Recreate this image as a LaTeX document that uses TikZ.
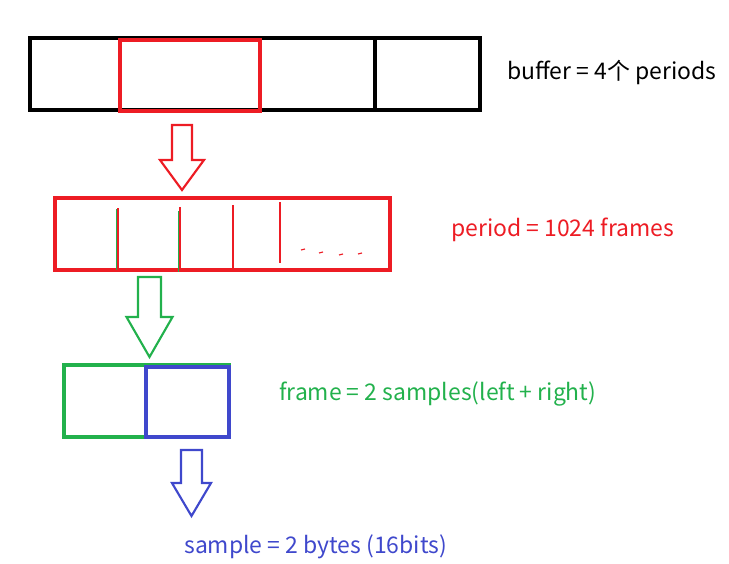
\documentclass[tikz,border=0pt]{standalone}
\usepackage{fontspec}
\setmainfont{Noto Sans CJK SC}
\usetikzlibrary{fit}
\definecolor{bufblack}{RGB}{0,0,0}
\definecolor{perred}{RGB}{237,28,36}
\definecolor{framegreen}{RGB}{34,177,76}
\definecolor{sampblue}{RGB}{63,72,204}

% hollow block arrow: colour, x, top, head base, tip, shaft half, head half
\newcommand{\hollowarrow}[7]{%
  \draw[line width=1.6pt, draw=#1, line join=miter]
    (#2-#6,#3) -- (#2+#6,#3) -- (#2+#6,#4) -- (#2+#7,#4) -- (#2,#5)
    -- (#2-#7,#4) -- (#2-#6,#4) -- cycle;
}

\begin{document}
\begin{tikzpicture}[
    x=0.75pt, y=-0.75pt,
    box/.style={rectangle, inner sep=0pt, line width=2.3pt},
    label/.style={anchor=west, inner sep=0pt, font=\fontsize{17.2pt}{20pt}\selectfont}
]
\useasboundingbox (0,0) rectangle (729,564);

% buffer
\node[box, draw=bufblack, fit={(30,38)(480,110)}] (buffer) {};
\draw[line width=2.3pt, bufblack] (260,38) -- (260,110);
\draw[line width=2.3pt, bufblack] (375,38) -- (375,111);
\node[box, draw=perred, fit={(120,40)(260,111)}] (oneperiod) {};
\node[label, text=bufblack] (buflabel) at (507,72) {buffer = 4个 periods};

\hollowarrow{perred}{182}{125}{160}{190}{10}{22}

% period
\node[box, draw=perred, fit={(55,198)(390,270)}] (period) {};
\foreach \x/\ya/\yb in {233/205/268, 280/202/263}
  \draw[line width=1.6pt, perred] (\x,\ya) -- (\x,\yb);
\foreach \x/\ya/\yb in {118/208/268, 180/207/272}
  \draw[line width=1.6pt, perred] (\x,\ya) -- (\x,\yb);
\foreach \x/\ya/\yb in {116.5/209/270, 178.5/211/272}
  \draw[line width=1.4pt, framegreen] (\x,\ya) -- (\x,\yb);
\foreach \x/\y in {303/250, 321/253, 341/255, 360/254}
  \draw[line width=0.9pt, perred] (\x-2,\y) -- (\x+2,\y-1);
\node[label, text=perred] (perlabel) at (451,230) {period = 1024 frames};

\hollowarrow{framegreen}{149.5}{277}{317}{357}{11.5}{23}

% frame
\node[box, draw=framegreen, fit={(64,365)(229,437)}] (frame) {};
\node[box, draw=sampblue, fit={(146,367)(229,437)}] (sample) {};
\node[label, text=framegreen] (framelabel) at (279,394) {frame = 2 samples(left + right)};

\hollowarrow{sampblue}{191.5}{450}{483}{516}{10.5}{19.5}

\node[label, text=sampblue] (samplabel) at (184,547) {sample = 2 bytes (16bits)};

\end{tikzpicture}
\end{document}
